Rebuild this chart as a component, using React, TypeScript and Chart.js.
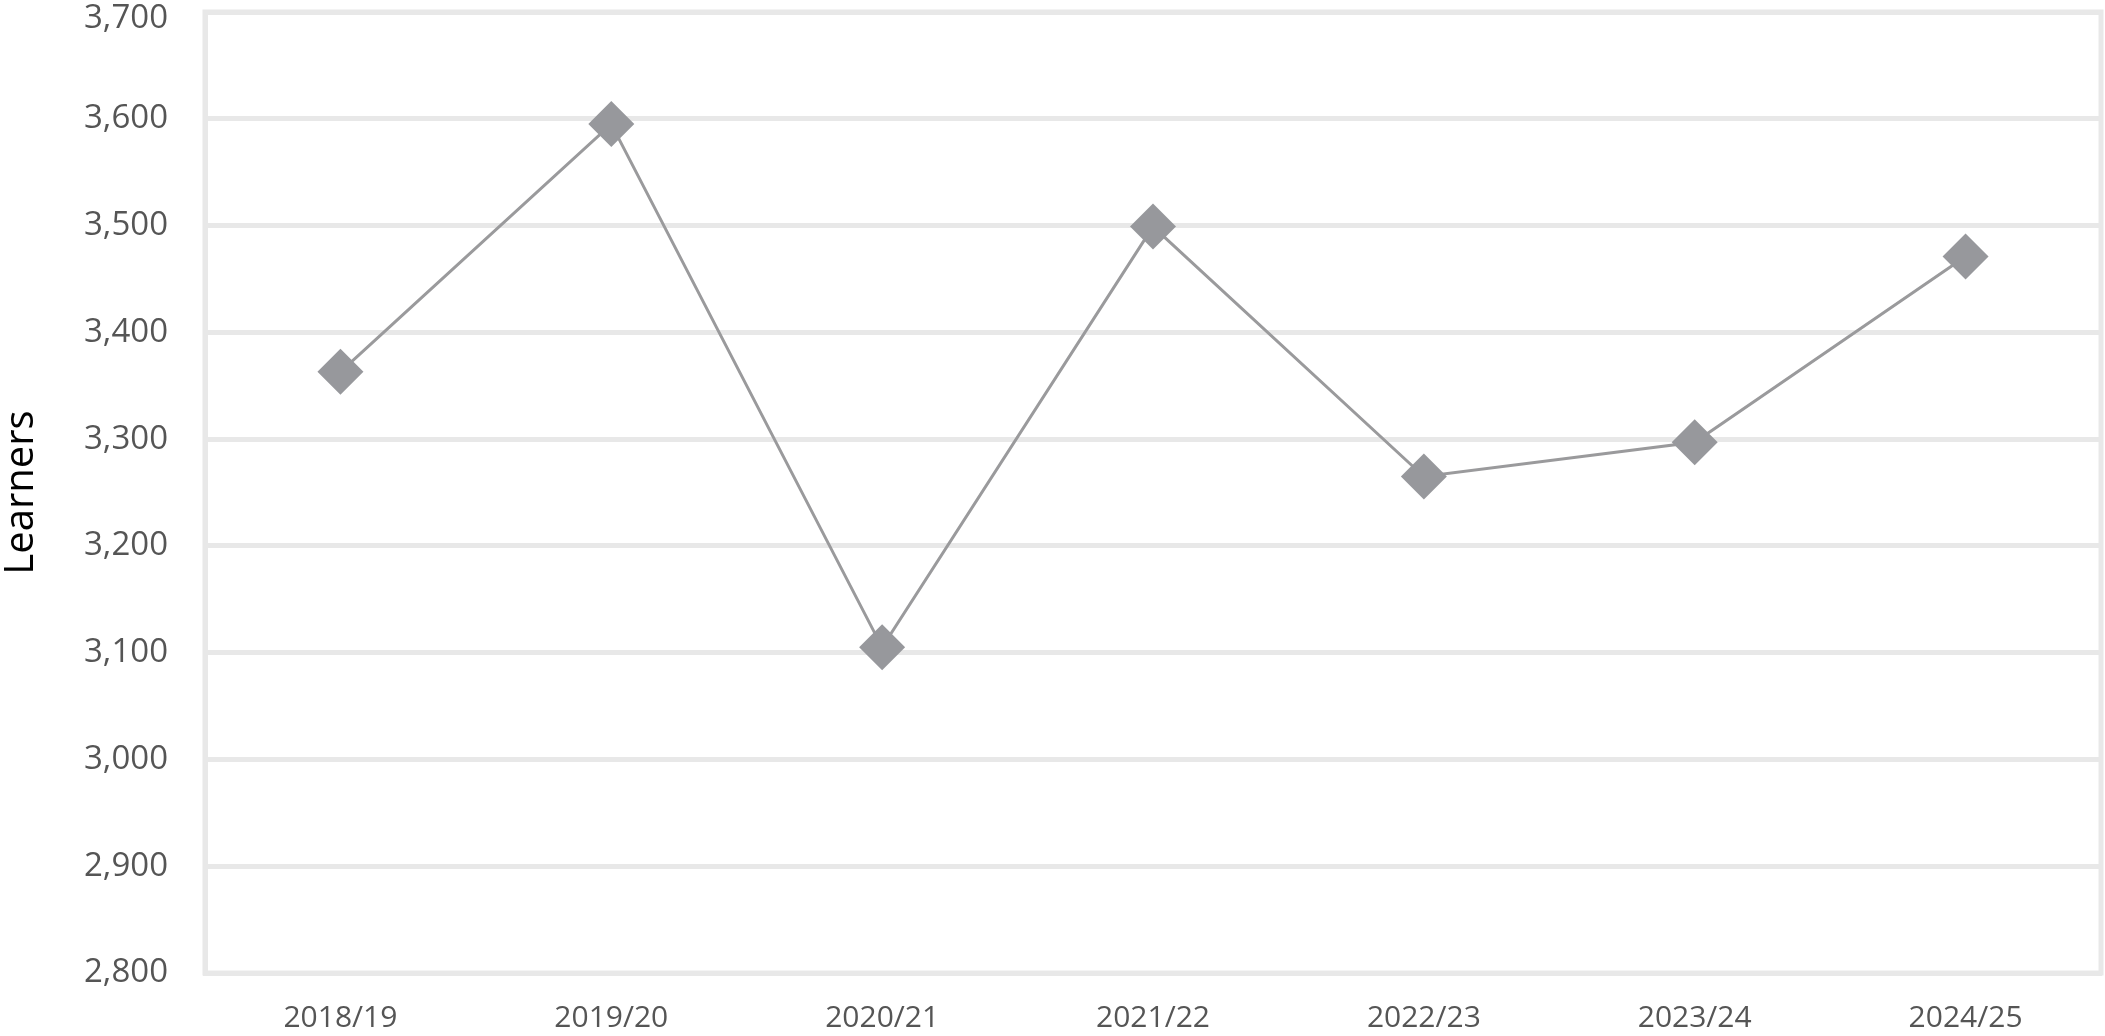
import React, { useEffect, useRef } from "react";
import { Chart, registerables } from "chart.js";

Chart.register(...registerables);

const categories = ["2018/19", "2019/20", "2020/21", "2021/22", "2022/23", "2023/24", "2024/25"];
const learners = [3363, 3595, 3105, 3499, 3265, 3297, 3471];
const yMin = 2800;
const yMax = 3700;
const yStep = 100;
const yTitle = "Learners";

const GRID = "#e8e8e8";
const FONT = "'Open Sans', sans-serif";

const frame = {
  id: "frame",
  afterDraw(chart: any) {
    const { ctx, chartArea } = chart;
    ctx.save();
    ctx.strokeStyle = GRID;
    ctx.lineWidth = 5;
    ctx.strokeRect(chartArea.left, chartArea.top, chartArea.right - chartArea.left, chartArea.bottom - chartArea.top);
    ctx.restore();
  },
};

export default function App() {
  const ref = useRef<HTMLCanvasElement>(null);
  useEffect(() => {
    document.body.style.margin = "0";
    const chart = new Chart(ref.current!, {
      type: "line",
      data: {
        labels: categories,
        datasets: [
          {
            label: yTitle,
            data: learners,
            borderColor: "#9a9a9c",
            borderWidth: 3,
            pointStyle: "rectRot",
            pointRadius: 23,
            pointHoverRadius: 23,
            pointBackgroundColor: "#97989c",
            pointBorderColor: "#97989c",
            pointBorderWidth: 0,
            tension: 0,
            clip: false,
          },
        ],
      },
      plugins: [frame],
      options: {
        animation: false,
        responsive: false,
        maintainAspectRatio: false,
        layout: { autoPadding: false, padding: { left: 0, right: 4, top: 0, bottom: 0 } },
        plugins: { legend: { display: false }, tooltip: { enabled: false } },
        scales: {
          x: {
            type: "category",
            offset: true,
            afterFit: (scale: any) => {
              scale.height = 63;
              scale.paddingLeft = 0;
              scale.paddingRight = 0;
            },
            grid: { display: false, drawTicks: false },
            border: { display: true, color: GRID, width: 5 },
            ticks: {
              color: "#555555",
              padding: 27,
              font: { family: FONT, size: 30 },
            },
          },
          y: {
            min: yMin,
            max: yMax,
            afterFit: (scale: any) => {
              scale.width = 205;
              scale.paddingTop = 12;
              scale.paddingBottom = 0;
            },
            grid: { color: GRID, lineWidth: 5, drawTicks: false },
            border: { display: true, color: GRID, width: 5 },
            ticks: {
              stepSize: yStep,
              color: "#555555",
              padding: 37,
              font: (ctx: any) => ({
                family: FONT,
                size: 33,
                lineHeight: ctx.tick && ctx.tick.value === yMax ? 0.4 : 0.75,
              }),
              callback: (v: any) => {
                const s = Number(v).toLocaleString("en-US");
                return Number(v) === yMax ? ["", s] : s;
              },
            },
            title: {
              display: true,
              text: yTitle,
              color: "#000000",
              padding: 0,
              font: { family: FONT, size: 40, lineHeight: 1.1 },
            },
          },
        },
      },
    });
    return () => chart.destroy();
  }, []);
  return (
    <div style={{ width: 2105, height: 1036, background: "#ffffff" }}>
      <canvas ref={ref} width={2105} height={1036} style={{ display: "block" }} />
    </div>
  );
}
